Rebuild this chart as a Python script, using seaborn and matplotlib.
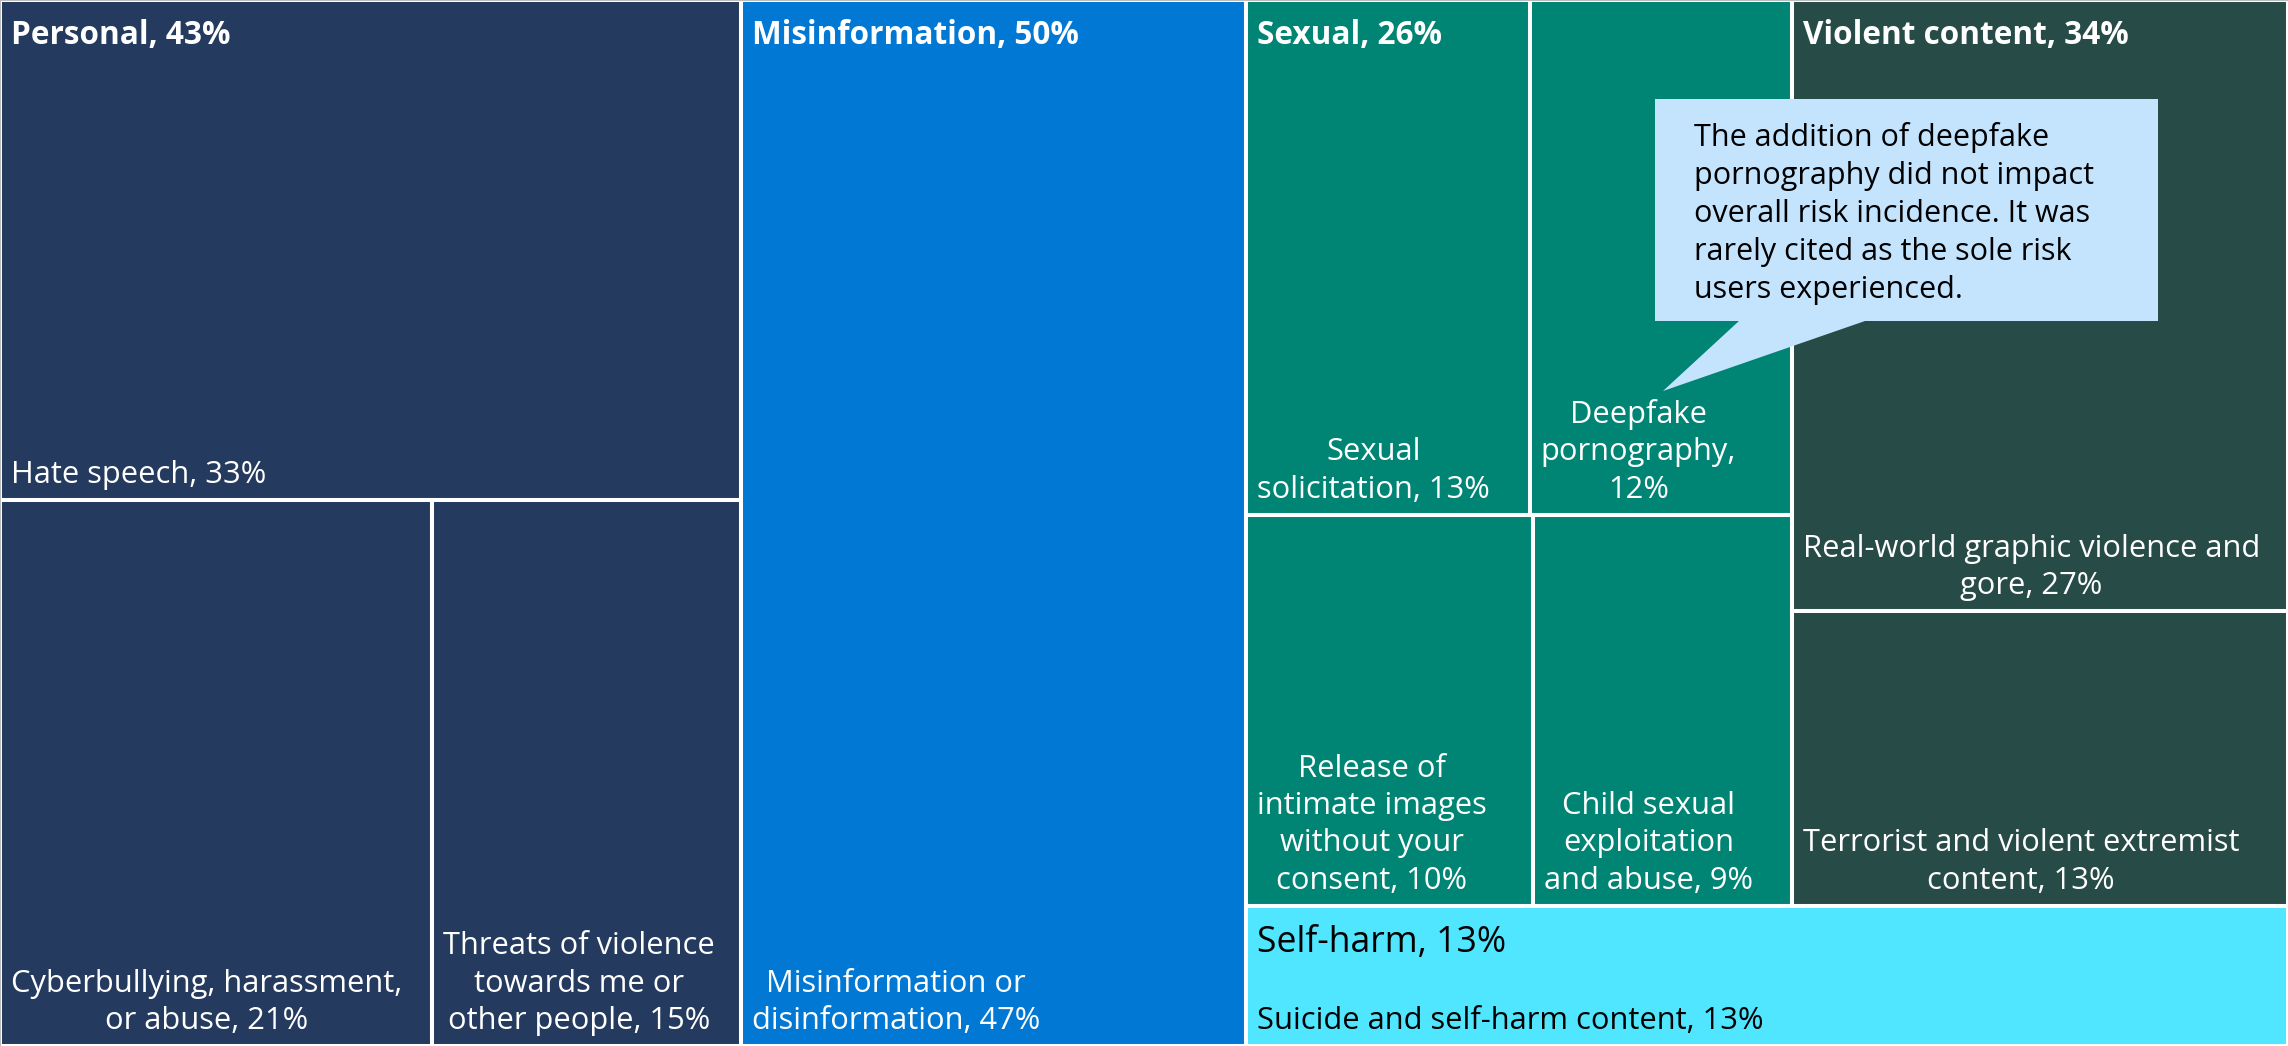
import matplotlib
matplotlib.use("Agg")
import matplotlib.pyplot as plt
from matplotlib.patches import Rectangle, Polygon
import seaborn as sns

# top level risk groups
group_names = ["Personal", "Misinformation", "Sexual", "Violent content", "Self-harm"]
group_pct = [43, 50, 26, 34, 13]
group_colors = ["#243A5E", "#0078D4", "#008575", "#274B47", "#50E6FF"]

# risks inside each group (label templates keep the line breaks of the original)
personal_labels = ["Hate speech, {}%",
                   "Cyberbullying, harassment,\nor abuse, {}%",
                   "Threats of violence\ntowards me or\nother people, {}%"]
personal_pct = [33, 21, 15]
misinfo_labels = ["Misinformation or\ndisinformation, {}%"]
misinfo_pct = [47]
sexual_labels = ["Sexual\nsolicitation, {}%",
                 "Deepfake\npornography,\n{}%",
                 "Release of\nintimate images\nwithout your\nconsent, {}%",
                 "Child sexual\nexploitation\nand abuse, {}%"]
sexual_pct = [13, 12, 10, 9]
violent_labels = ["Real-world graphic violence and\ngore, {}%",
                  "Terrorist and violent extremist\ncontent, {}%"]
violent_pct = [27, 13]
selfharm_labels = ["Suicide and self-harm content, {}%"]
selfharm_pct = [13]

callout_text = ("The addition of deepfake\npornography did not impact\n"
                "overall risk incidence. It was\nrarely cited as the sole risk\n"
                "users experienced.")

child_labels = [personal_labels, misinfo_labels, sexual_labels, violent_labels, selfharm_labels]
child_pct = [personal_pct, misinfo_pct, sexual_pct, violent_pct, selfharm_pct]

# how the treemap is cut: "h" = side by side, "v" = stacked
top_split = ("h", [0, 1, ("v", [("h", [2, 3]), 4])])
child_splits = [("v", [0, ("h", [1, 2])]),
                0,
                ("v", [("h", [0, 1]), ("h", [2, 3])]),
                ("v", [0, 1]),
                0]


def node_size(node, sizes):
    if isinstance(node, int):
        return sizes[node]
    return sum(node_size(k, sizes) for k in node[1])


def layout(node, sizes, x, y, w, h, out):
    if isinstance(node, int):
        out[node] = (x, y, w, h)
        return out
    direction, kids = node
    total = node_size(node, sizes)
    for k in kids:
        share = node_size(k, sizes) / total
        if direction == "h":
            layout(k, sizes, x, y, w * share, h, out)
            x += w * share
        else:
            layout(k, sizes, x, y, w, h * share, out)
            y += h * share
    return out


sns.set_theme(style="white")
plt.rcParams['font.family'] = ['Open Sans', 'DejaVu Sans']

W, H = 2288, 1046
fig = plt.figure(figsize=(22.88, 10.46), dpi=100)
ax = fig.add_axes([0, 0, 1, 1])
ax.set_xlim(0, W)
ax.set_ylim(H, 0)
ax.set_xticks([])
ax.set_yticks([])
for side in ["bottom", "right"]:
    ax.spines[side].set_visible(False)
for side in ["top", "left"]:
    ax.spines[side].set_color("#BDBDBD")
    ax.spines[side].set_linewidth(1.5)

palette = sns.color_palette(group_colors)
group_sizes = [sum(v) for v in child_pct]
group_rects = layout(top_split, group_sizes, 0, 0, W, H, {})

pad = 11
for g, name in enumerate(group_names):
    gx, gy, gw, gh = group_rects[g]
    light = g == 4
    txt_color = "black" if light else "white"
    cells = layout(child_splits[g], child_pct[g], gx, gy, gw, gh, {})
    for i, val in enumerate(child_pct[g]):
        cx, cy, cw, ch = cells[i]
        ax.add_patch(Rectangle((cx, cy), cw, ch, facecolor=palette[g],
                               edgecolor="white", linewidth=2.9, zorder=1))
        ax.text(cx + pad, cy + ch - 10, child_labels[g][i].format(val),
                ha="left", va="bottom", multialignment="center",
                linespacing=1.32, fontsize=22.2, color=txt_color, zorder=3)
    # group header
    ax.text(gx + pad, gy + 19, f"{name}, {group_pct[g]}%", ha="left", va="top",
            fontsize=25.6 if light else 22.7,
            fontweight="normal" if light else "bold",
            color=txt_color, zorder=3)

# speech bubble note pointing at deepfake pornography
bx0, by0, bx1, by1 = 1655, 99, 2158, 321
bubble = [(bx0, by0), (bx1, by0), (bx1, by1), (1865, by1), (1663, 391),
          (1739, by1), (bx0, by1)]
ax.add_patch(Polygon(bubble, closed=True, facecolor="#C4E4FE",
                     edgecolor="none", zorder=4))
ax.text(bx0 + 39, by0 + 23, callout_text, ha="left", va="top",
        linespacing=1.35, fontsize=22, color="black", zorder=5)

fig.savefig("out.png", dpi=100)
